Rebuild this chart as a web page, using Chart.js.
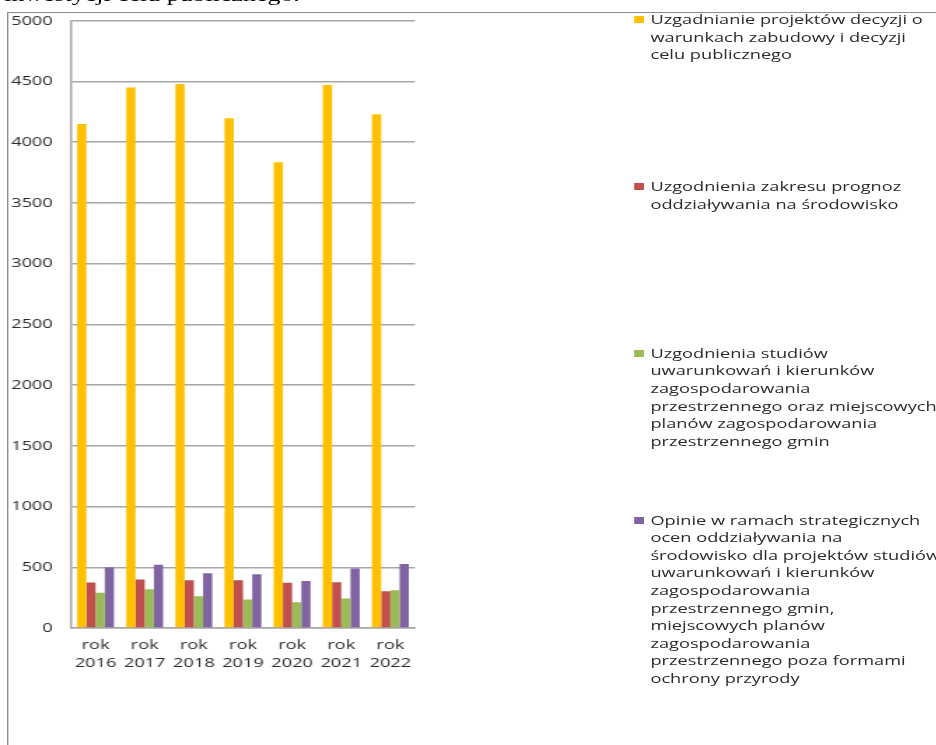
<!DOCTYPE html>
<html>
<head>
<meta charset="utf-8">
<script src="https://cdn.jsdelivr.net/npm/chart.js@4.4.1/dist/chart.umd.min.js"></script>
<style>
  html, body { margin: 0; padding: 0; background: #fff; overflow: hidden; }
  /* the source picture is a stretched screenshot: draw narrow, then widen */
  #page { position: relative; width: 669px; height: 745px; transform: scaleX(1.4); transform-origin: 0 0; }
  #docText { position: absolute; left: 3px; top: -16px; font: 18.5px/23px "Liberation Serif", serif; color: #000; white-space: nowrap; }
  #frame { position: absolute; left: 5px; top: 12px; width: 700px; height: 760px;
           border-top: 1.5px solid #8c8c8c; border-left: 1.4px solid #8c8c8c; }
  #chartBox { position: absolute; left: 0; top: 0; }
  #legend { position: absolute; left: 453px; top: 0; }
  .item { position: absolute; left: 0; white-space: nowrap; font: 13px/17.6px "Open Sans", sans-serif; color: #2b2b2b; }
  .sw { position: absolute; left: 0; top: 5.3px; width: 7.3px; height: 7px; }
  .txt { position: absolute; left: 11.6px; top: 0; }
</style>
</head>
<body>
<div id="page">
  <div id="docText">inwestycji celu publicznego.</div>
  <div id="frame"></div>
  <div id="chartBox"><canvas id="barChart" width="310" height="745"></canvas></div>
  <div id="legend"></div>
</div>
<script>
// ======================================
// dane z wykresu
// ======================================
const years = ["2016", "2017", "2018", "2019", "2020", "2021", "2022"];
const yTicks = [0, 500, 1000, 1500, 2000, 2500, 3000, 3500, 4000, 4500, 5000];

const decyzjeWz = [4151, 4450, 4480, 4197, 3836, 4472, 4230];
const prognozyOos = [374, 399, 393, 393, 372, 377, 302];
const studiaPlany = [290, 319, 262, 234, 212, 243, 311];
const opinieSoos = [500, 520, 451, 442, 388, 489, 528];

const seriesColors = ["#FFC000", "#C0504D", "#9BBB59", "#8064A2"];

// legenda - linie jak w oryginale
const legendLines = [
  ["Uzgadnianie projektów decyzji o", "warunkach zabudowy i decyzji", "celu publicznego"],
  ["Uzgodnienia zakresu prognoz", "oddziaływania na środowisko"],
  ["Uzgodnienia studiów", "uwarunkowań i kierunków", "zagospodarowania",
   "przestrzennego  oraz miejscowych", "planów zagospodarowania", "przestrzennego  gmin"],
  ["Opinie w ramach strategicznych", "ocen oddziaływania na", "środowisko dla projektów studiów",
   "uwarunkowań i kierunków", "zagospodarowania", "przestrzennego  gmin,", "miejscowych planów",
   "zagospodarowania", "przestrzennego  poza formami", "ochrony przyrody"]
];

const GRID = "#a6a6a6";
const TEXT = "#2b2b2b";

function buildDatasets() {
  const values = [decyzjeWz, prognozyOos, studiaPlany, opinieSoos];
  return values.map((data, i) => ({
    label: legendLines[i].join(" "),
    data,
    backgroundColor: seriesColors[i],
    borderWidth: 0,
    categoryPercentage: 0.75,
    barPercentage: 1.0
  }));
}

function renderLegend() {
  const wrap = document.getElementById("legend");
  legendLines.forEach((lines, i) => {
    const item = document.createElement("div");
    item.className = "item";
    item.style.top = (11.2 + i * 166.8) + "px";
    item.innerHTML = `<span class="sw" style="background:${seriesColors[i]}"></span>` +
      `<div class="txt">${lines.join("<br>")}</div>`;
    wrap.appendChild(item);
  });
}

const ctx = document.getElementById("barChart").getContext("2d");

new Chart(ctx, {
  type: "bar",
  data: {
    labels: years.map(y => ["rok", y]),
    datasets: buildDatasets()
  },
  options: {
    responsive: false,
    animation: false,
    layout: { padding: { top: 20.7, right: 13.6, left: 0, bottom: 0 } },
    plugins: {
      legend: { display: false },
      tooltip: { enabled: false }
    },
    scales: {
      x: {
        grid: { display: false, drawTicks: false },
        border: { display: true, color: GRID, width: 1.5 },
        ticks: {
          color: TEXT,
          font: { family: "Open Sans", size: 13, lineHeight: 1.35 },
          padding: 9,
          maxRotation: 0,
          autoSkip: false
        },
        afterFit: (scale) => { scale.height = 117; }
      },
      y: {
        min: 0,
        max: 5000,
        afterBuildTicks: (scale) => { scale.ticks = yTicks.map(v => ({ value: v })); },
        grid: { color: GRID, lineWidth: 1.5, drawTicks: false },
        border: { display: true, color: GRID, width: 1.5 },
        ticks: {
          color: TEXT,
          font: { family: "Open Sans", size: 13 },
          padding: 13,
          callback: (v) => String(v)
        },
        afterFit: (scale) => { scale.width = 50.7; }
      }
    }
  }
});

renderLegend();
</script>
</body>
</html>
